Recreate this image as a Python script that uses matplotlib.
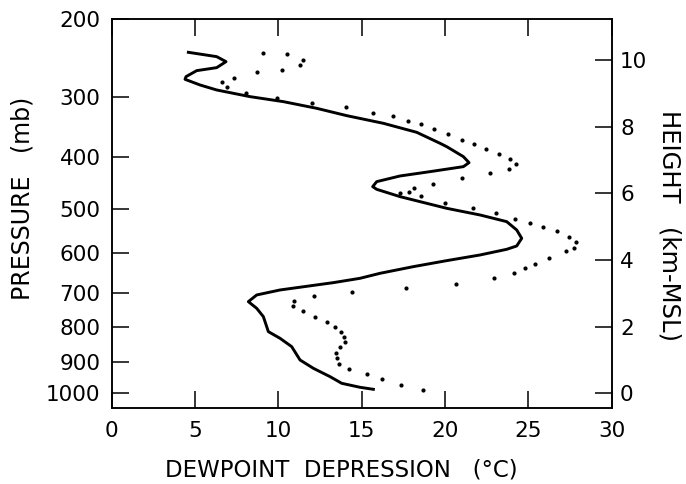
import matplotlib
matplotlib.use('Agg')
import matplotlib.pyplot as plt

# Pressure levels (mb) and their heights (km MSL) as placed on the left axis
pressure_labels = [200, 300, 400, 500, 600, 700, 800, 900, 1000]
pressure_heights = [11.22, 8.88, 7.10, 5.52, 4.21, 3.02, 2.00, 0.95, 0.02]

height_ticks = [0, 2, 4, 6, 8, 10]
x_ticks = [0, 5, 10, 15, 20, 25, 30]

# Solid curve: dewpoint depression (C) vs height (km)
solid_dd = [4.60, 6.30, 6.86, 6.30, 5.10, 4.46, 4.40, 5.30, 6.30, 8.30, 10.30,
            12.30, 14.10, 16.30, 18.30, 19.70, 20.10, 21.10, 21.44, 21.10, 19.10,
            17.30, 15.90, 15.66, 15.90, 17.30, 20.10, 22.10, 23.70, 24.30, 24.60,
            24.30, 23.70, 22.10, 20.10, 18.10, 16.10, 14.90, 13.30, 10.10, 8.70,
            8.20, 8.70, 9.10, 9.40, 10.10, 10.80, 11.30, 12.10, 13.10, 13.80,
            14.90, 15.70]
solid_h = [10.23, 10.10, 9.95, 9.77, 9.68, 9.50, 9.42, 9.25, 9.10, 8.90, 8.75,
           8.55, 8.33, 8.10, 7.83, 7.50, 7.40, 7.10, 6.92, 6.80, 6.65,
           6.52, 6.35, 6.20, 6.12, 5.90, 5.55, 5.35, 5.15, 4.90, 4.65,
           4.42, 4.32, 4.15, 3.98, 3.80, 3.60, 3.45, 3.32, 3.10, 2.95,
           2.75, 2.55, 2.30, 1.85, 1.65, 1.40, 1.00, 0.75, 0.50, 0.30,
           0.18, 0.12]

# Dotted curve
dot_dd = [9.06, 10.54, 11.46, 11.30, 10.20, 8.70, 7.34, 6.60, 6.90, 8.06, 9.90,
          12.04, 14.07, 15.69, 16.90, 17.80, 18.56, 19.36, 20.18, 21.00, 21.76,
          22.46, 23.24, 23.90, 24.24, 23.86, 22.70, 21.00, 19.30, 18.16, 17.84,
          17.30, 18.54, 19.98, 21.70, 23.04, 24.20, 25.10, 25.90, 26.70, 27.44,
          27.86, 27.76, 27.26, 26.26, 25.38, 24.82, 24.15, 22.96, 20.66, 17.63,
          14.44, 12.14, 10.94, 10.90, 11.46, 12.20, 12.90, 13.40, 13.76, 13.96,
          14.00, 13.70, 13.46, 13.50, 13.64, 14.24, 15.30, 16.24, 17.34, 18.70]
dot_h = [10.22, 10.17, 10.00, 9.86, 9.70, 9.64, 9.47, 9.35, 9.18, 9.01, 8.87,
         8.72, 8.58, 8.42, 8.31, 8.18, 8.07, 7.94, 7.78, 7.60, 7.47,
         7.33, 7.19, 7.02, 6.87, 6.73, 6.60, 6.46, 6.28, 6.17, 6.05,
         6.00, 5.92, 5.72, 5.55, 5.40, 5.24, 5.12, 4.98, 4.87, 4.70,
         4.53, 4.37, 4.27, 4.07, 3.87, 3.77, 3.60, 3.47, 3.28, 3.15,
         3.03, 2.93, 2.77, 2.62, 2.48, 2.30, 2.14, 1.98, 1.85, 1.70,
         1.53, 1.38, 1.22, 1.05, 0.88, 0.74, 0.57, 0.43, 0.26, 0.09]

plt.rcParams['font.family'] = ['DejaVu Sans']

fig = plt.figure(figsize=(6.86, 4.84), dpi=100)
ax = fig.add_axes([0.1628, 0.1564, 0.7289, 0.8037])

ax.plot(solid_dd, solid_h, color='black', linewidth=2.1)
ax.plot(dot_dd, dot_h, linestyle='none', marker='o', markersize=2.0,
        color='black')

ax.set_xlim(0, 30)
ax.set_ylim(-0.45, 11.22)

ax.set_xticks(x_ticks)
ax.set_yticks(pressure_heights)
ax.set_yticklabels([str(p) for p in pressure_labels])
ax.tick_params(axis='x', direction='in', top=True, length=12, width=1.1,
               labelsize=15.5, pad=9)
ax.tick_params(axis='y', direction='in', length=12, width=1.1,
               labelsize=15.5, pad=8)

ax.set_xlabel('DEWPOINT  DEPRESSION   (°C)', fontsize=16.5)
ax.xaxis.set_label_coords(0.46, -0.128)
ax.set_ylabel('PRESSURE   (mb)', fontsize=17)
ax.yaxis.set_label_coords(-0.155, 0.54)

# Height axis on the right
ax2 = ax.twinx()
ax2.set_ylim(ax.get_ylim())
ax2.set_yticks(height_ticks)
ax2.tick_params(axis='y', direction='in', length=12, width=1.1,
                labelsize=15.5, pad=6)
ax2.set_ylabel('HEIGHT   (km-MSL)', fontsize=17.5, rotation=270)
ax2.yaxis.set_label_coords(1.14, 0.47)

for a in (ax, ax2):
    for s in a.spines.values():
        s.set_linewidth(1.1)

fig.savefig('out.png', dpi=100)
